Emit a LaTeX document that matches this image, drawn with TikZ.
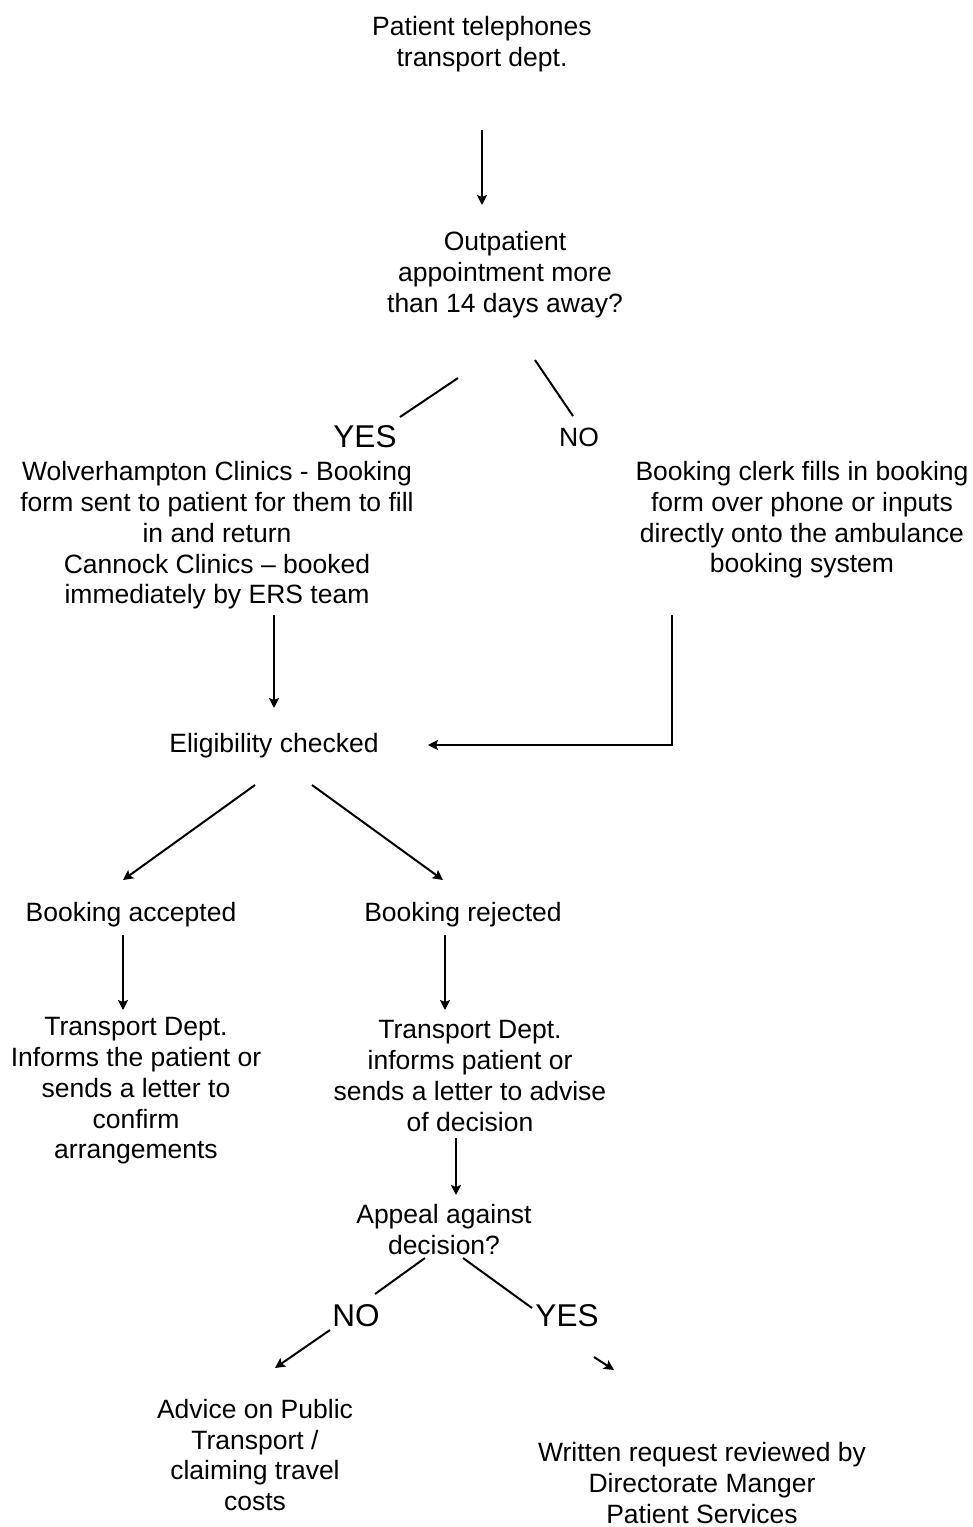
\documentclass[tikz,border=0pt]{standalone}
\usepackage{fontspec}
\setmainfont{Liberation Sans}
\usetikzlibrary{arrows.meta}
\def\fs{\fontsize{26.5}{30.7}\selectfont}
\def\fsbig{\fontsize{31.5}{36}\selectfont}
\tikzstyle{every node} = [font=\fs, inner sep=0pt, align=center]
\tikzstyle{every path} = [line width=2pt]
\tikzstyle{arrow} = [->, >={Stealth[length=10pt,width=10pt,inset=2pt]}]
\tikzstyle{answer} = [font=\fsbig]

\begin{document}
\begin{tikzpicture}[x=1pt, y=-1pt]
\useasboundingbox (0,0) rectangle (973,1527);
% Texts
    % Top
    \node (phone)  at (482,44)    {Patient telephones\\transport dept.};
    \node (days)   at (505,274.5) {Outpatient\\appointment more\\than 14 days away?};
    \node (yesA)   [answer] at (365,437) {YES};
    \node (noA)    at (579,437)   {NO};
    % Booking
    \node (form)   at (217,535.5) {Wolverhampton Clinics - Booking\\form sent to patient for them to fill\\in and return\\Cannock Clinics -- booked\\immediately by ERS team};
    \node (clerk)  at (802,520)   {Booking clerk fills in booking\\form over phone or inputs\\directly onto the ambulance\\booking system};
    \node (elig)   at (274,746)   {Eligibility checked};
    % Outcome
    \node (accept) at (131,915)   {Booking accepted};
    \node (reject) at (463,915)   {Booking rejected};
    \node (infoA)  at (136,1091)  {Transport Dept.\\Informs the patient or\\sends a letter to\\confirm\\arrangements};
    \node (infoR)  at (470,1076)  {Transport Dept.\\informs patient or\\sends a letter to advise\\of decision};
    % Appeal
    \node (appeal) at (444,1229.5){Appeal against\\decision?};
    \node (noB)    [answer] at (356,1316) {NO};
    \node (yesB)   [answer] at (567,1316) {YES};
    \node (advice) at (255,1455)  {Advice on Public\\Transport /\\claiming travel\\costs};
    \node (review) at (702,1483)  {Written request reviewed by\\Directorate Manger\\Patient Services};

% Connector ends
    \coordinate (c1) at (482,130);  \coordinate (c2) at (482,205);
    \coordinate (c3) at (458,378);  \coordinate (c4) at (400,417);
    \coordinate (c5) at (535,360);  \coordinate (c6) at (573,416);
    \coordinate (c7) at (274,615);  \coordinate (c8) at (274,708);
    \coordinate (c9) at (672,615);  \coordinate (c10) at (428,745);
    \coordinate (c11) at (255,785); \coordinate (c12) at (123,880);
    \coordinate (c13) at (312,785); \coordinate (c14) at (443,880);
    \coordinate (c15) at (123,935); \coordinate (c16) at (123,1010);
    \coordinate (c17) at (445,935); \coordinate (c18) at (445,1010);
    \coordinate (c19) at (456,1138);\coordinate (c20) at (456,1195);
    \coordinate (c21) at (425,1258);\coordinate (c22) at (375,1294);
    \coordinate (c23) at (463,1258);\coordinate (c24) at (532,1308);
    \coordinate (c25) at (330,1330);\coordinate (c26) at (275,1368);
    \coordinate (c27) at (594,1357);\coordinate (c28) at (614,1370);

% Arrows
    \draw [arrow] (c1)  -- (c2);
    \draw         (c3)  -- (c4);
    \draw         (c5)  -- (c6);
    \draw [arrow] (c7)  -- (c8);
    \draw [arrow] (c9)  |- (c10);
    \draw [arrow] (c11) -- (c12);
    \draw [arrow] (c13) -- (c14);
    \draw [arrow] (c15) -- (c16);
    \draw [arrow] (c17) -- (c18);
    \draw [arrow] (c19) -- (c20);
    \draw         (c21) -- (c22);
    \draw         (c23) -- (c24);
    \draw [arrow] (c25) -- (c26);
    \draw [arrow] (c27) -- (c28);
\end{tikzpicture}
\end{document}
